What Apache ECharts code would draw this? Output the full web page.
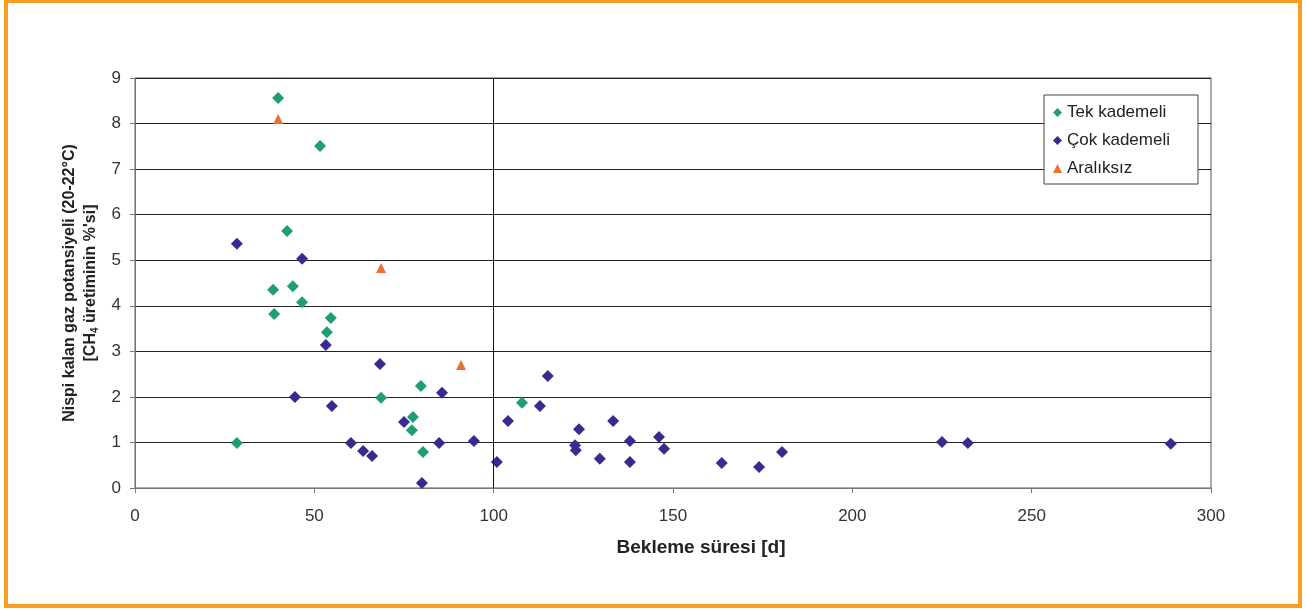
<!DOCTYPE html>
<html><head><meta charset="utf-8">
<script src="https://cdn.jsdelivr.net/npm/echarts@6/dist/echarts.min.js"></script>
<style>html,body{margin:0;padding:0;background:#fff}#c{width:1306px;height:610px}</style>
</head><body><div id="c"></div>
<script>
const seriesNames = ['Tek kademeli', 'Çok kademeli', 'Aralıksız'];
const xTicks = [0, 50, 100, 150, 200, 250, 300];
const yTicks = [0, 1, 2, 3, 4, 5, 6, 7, 8, 9];
// [bekleme süresi (d), nispi kalan gaz potansiyeli (%)]
const tekKademeli = [
  [39.9, 8.56], [51.6, 7.51], [42.4, 5.64], [38.5, 4.35], [44.0, 4.43], [46.6, 4.08],
  [38.8, 3.82], [54.6, 3.73], [53.5, 3.42], [79.7, 2.24], [68.6, 1.98], [77.5, 1.56],
  [77.2, 1.27], [28.4, 0.99], [80.3, 0.79], [107.9, 1.87]
];
const cokKademeli = [
  [28.4, 5.36], [46.6, 5.03], [53.2, 3.14], [68.3, 2.72], [44.6, 2.0], [54.9, 1.80],
  [85.6, 2.09], [75.0, 1.45], [60.2, 0.99], [84.8, 0.99], [63.6, 0.81], [66.1, 0.70],
  [94.5, 1.03], [80.0, 0.11], [100.9, 0.57], [115.1, 2.46], [112.9, 1.80], [104.0, 1.47],
  [123.8, 1.29], [133.3, 1.47], [122.7, 0.94], [122.9, 0.83], [138.0, 1.03], [146.1, 1.12],
  [147.5, 0.86], [129.6, 0.64], [138.0, 0.57], [163.6, 0.55], [174.0, 0.46], [180.4, 0.79],
  [225.0, 1.01], [232.2, 0.99], [288.8, 0.97]
];
const araliksiz = [[39.9, 8.1], [68.6, 4.83], [90.9, 2.70]];
const xName = 'Bekleme süresi [d]';
const yNameLine1 = 'Nispi kalan gaz potansiyeli (20-22°C)';
const yNameLine2a = '[CH';
const yNameSub = '4';
const yNameLine2b = ' üretiminin %\'si]';

const colors = ['#1f9d78', '#3a2a90', '#ee6f32'];
const font = 'Liberation Sans, Arial, sans-serif';
const chart = echarts.init(document.getElementById('c'));
chart.setOption({
  animation: false,
  textStyle: { fontFamily: font },
  graphic: [{
    type: 'rect', shape: { x: 6, y: 1, width: 1294, height: 605 },
    style: { fill: 'none', stroke: '#f8a01e', lineWidth: 4 }, silent: true, z: 100
  }],
  grid: { left: 135, right: 95, top: 78, bottom: 122, show: true, borderColor: '#555', borderWidth: 1 },
  legend: {
    orient: 'vertical', left: 1044, top: 95,
    itemWidth: 9, itemHeight: 9, itemGap: 11,
    padding: [9, 28, 7, 9],
    borderColor: '#444', borderWidth: 1, backgroundColor: '#fff',
    textStyle: { fontSize: 17, color: '#222', fontFamily: font, padding: [0, 0, 0, 0] },
    data: [
      { name: seriesNames[0], icon: 'diamond' },
      { name: seriesNames[1], icon: 'diamond' },
      { name: seriesNames[2], icon: 'triangle' }
    ]
  },
  xAxis: {
    type: 'value', min: xTicks[0], max: xTicks[xTicks.length - 1], interval: 50,
    name: xName, nameLocation: 'middle', nameGap: 50,
    nameTextStyle: { fontSize: 19, fontWeight: 'bold', color: '#222', fontFamily: font, padding: [0, 0, 0, 56] },
    axisLine: { show: true, lineStyle: { color: '#777' } },
    axisTick: { show: true, inside: false, length: 5, lineStyle: { color: '#777' } },
    axisLabel: { fontSize: 17, color: '#333', margin: 20 },
    splitLine: { show: false }
  },
  yAxis: {
    type: 'value', min: yTicks[0], max: yTicks[yTicks.length - 1], interval: 1,
    name: '{b|' + yNameLine1 + '}\n{b|' + yNameLine2a + '}{s|' + yNameSub + '}{b|' + yNameLine2b + '}',
    nameLocation: 'middle', nameGap: 30,
    nameTextStyle: {
      rich: {
        b: { fontSize: 16, fontWeight: 'bold', color: '#222', fontFamily: font, lineHeight: 21 },
        s: { fontSize: 10, fontWeight: 'bold', color: '#222', fontFamily: font, verticalAlign: 'bottom', lineHeight: 21, padding: [7, 0, 0, 0] }
      }
    },
    axisLine: { show: true, lineStyle: { color: '#777' } },
    axisTick: { show: true, inside: false, length: 5, lineStyle: { color: '#777' } },
    axisLabel: { fontSize: 17, color: '#333', margin: 14 },
    splitLine: { show: true, lineStyle: { color: '#222', width: 1 } }
  },
  series: [
    {
      name: seriesNames[0], type: 'scatter', data: tekKademeli, symbol: 'diamond', symbolSize: 12,
      itemStyle: { color: colors[0], opacity: 1 }, z: 3,
      markLine: {
        silent: true, symbol: 'none', label: { show: false },
        lineStyle: { color: '#111', width: 1, type: 'solid' },
        data: [{ xAxis: 100 }]
      }
    },
    { name: seriesNames[1], type: 'scatter', data: cokKademeli, symbol: 'diamond', symbolSize: 12, itemStyle: { color: colors[1], opacity: 1 }, z: 4 },
    { name: seriesNames[2], type: 'scatter', data: araliksiz, symbol: 'triangle', symbolSize: 10, itemStyle: { color: colors[2], opacity: 1 }, z: 5 }
  ]
});
</script></body></html>
